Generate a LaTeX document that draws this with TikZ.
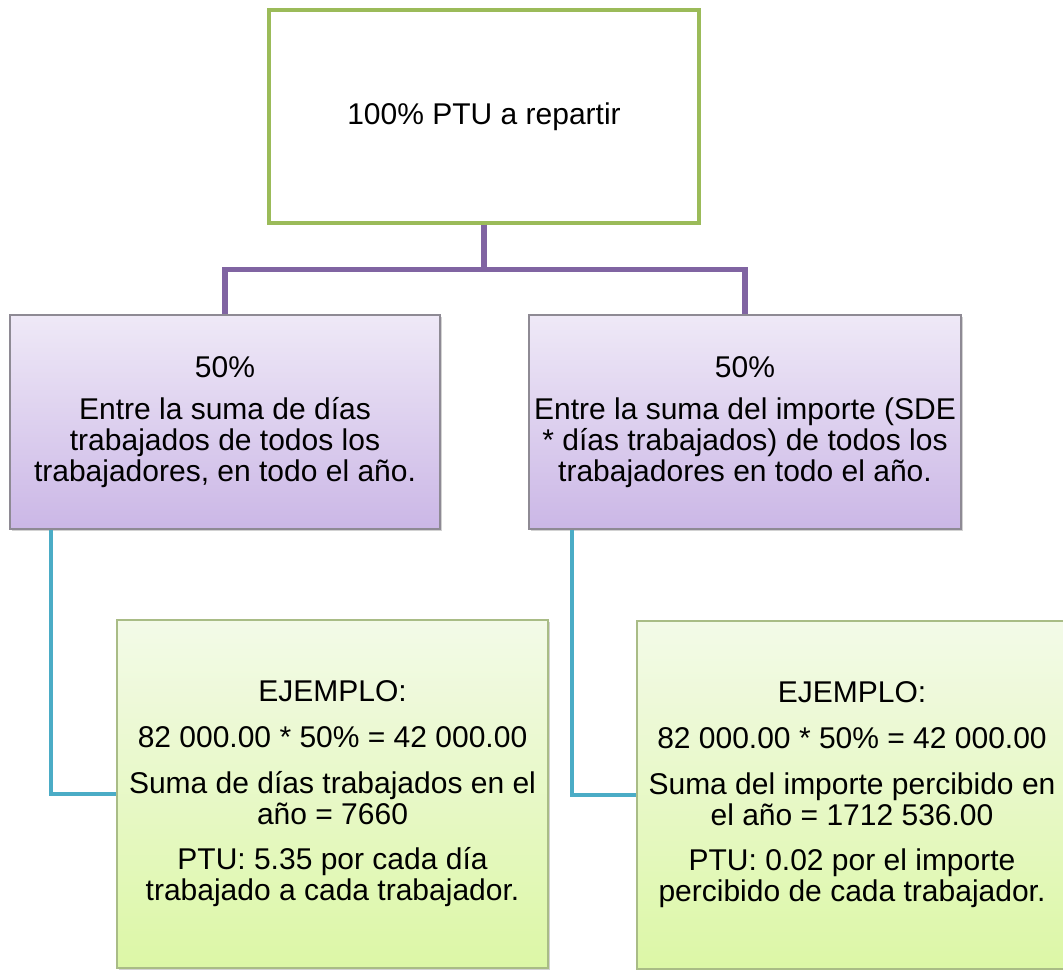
\documentclass[tikz,border=0pt]{standalone}
\usepackage{fontspec}
\setmainfont{Liberation Sans}
\usetikzlibrary{shadows,shadings,calc}
\definecolor{topgreen}{HTML}{9BBB59}
\definecolor{purpleline}{HTML}{8064A2}
\definecolor{tealline}{HTML}{4BACC6}
\definecolor{purptop}{HTML}{EFE9F7}
\definecolor{purpbot}{HTML}{CBB7E6}
\definecolor{purpborder}{HTML}{8E8A94}
\definecolor{greentop}{HTML}{F3FAE8}
\definecolor{greenbot}{HTML}{DCF7A6}
\definecolor{greenborder}{HTML}{A9BC86}
\tikzset{
  txt/.style={align=center, font=\fontsize{22.5}{23.25}\selectfont, inner sep=0pt},
  topbox/.style={txt, draw=topgreen, line width=3pt, fill=white,
    minimum width=322pt, minimum height=159pt},
  purpbox/.style={txt, draw=purpborder, line width=1.1pt, top color=purptop, bottom color=purpbot,
    minimum height=160.5pt, drop shadow={shadow xshift=1.2pt, shadow yshift=-1.5pt, opacity=0.35}},
  greenbox/.style={txt, draw=greenborder, line width=1.1pt, top color=greentop, bottom color=greenbot,
    minimum height=261pt, drop shadow={shadow xshift=1.2pt, shadow yshift=-1.5pt, opacity=0.35}},
  pline/.style={draw=purpleline, line width=3.9pt},
  tline/.style={draw=tealline, line width=3pt}
}
\begin{document}
\begin{tikzpicture}[x=0.75pt,y=-0.75pt]
\useasboundingbox (0,0) rectangle (1063,970);
\fill[white] (0,0) rectangle (1063,970);

\node[topbox] (top) at (484,116.5) {100\% PTU a repartir};

\node[purpbox, minimum width=322.5pt] (lp) at (225,422) {50\%\\[8pt]
Entre la suma de días\\
trabajados de todos los\\
trabajadores, en todo el año.};

\node[purpbox, minimum width=324pt] (rp) at (745,422) {50\%\\[8pt]
Entre la suma del importe (SDE\\
* días trabajados) de todos los\\
trabajadores en todo el año.};

\node[greenbox, minimum width=323.25pt] (lg) at (332.5,794) {EJEMPLO:\\[11pt]
82 000.00 * 50\% = 42 000.00\\[11pt]
Suma de días trabajados en el\\
año = 7660\\[11pt]
PTU: 5.35 por cada día\\
trabajado a cada trabajador.};

\node[greenbox, minimum width=337.5pt] (rg) at (862,795) {};
\node[txt] (rgt) at (852,795) {EJEMPLO:\\[11pt]
82 000.00 * 50\% = 42 000.00\\[11pt]
Suma del importe percibido en\\
el año = 1712 536.00\\[11pt]
PTU: 0.02 por el importe\\
percibido de cada trabajador.};

\draw[pline] (top.south) -- ++(0,45) -| (lp.north);
\draw[pline] (top.south) -- ++(0,45) -| (rp.north);

\draw[tline] ($(lp.south west)+(42,0)$) |- (lg.west);
\draw[tline] ($(rp.south west)+(44,0)$) |- (rg.west);
\end{tikzpicture}
\end{document}
